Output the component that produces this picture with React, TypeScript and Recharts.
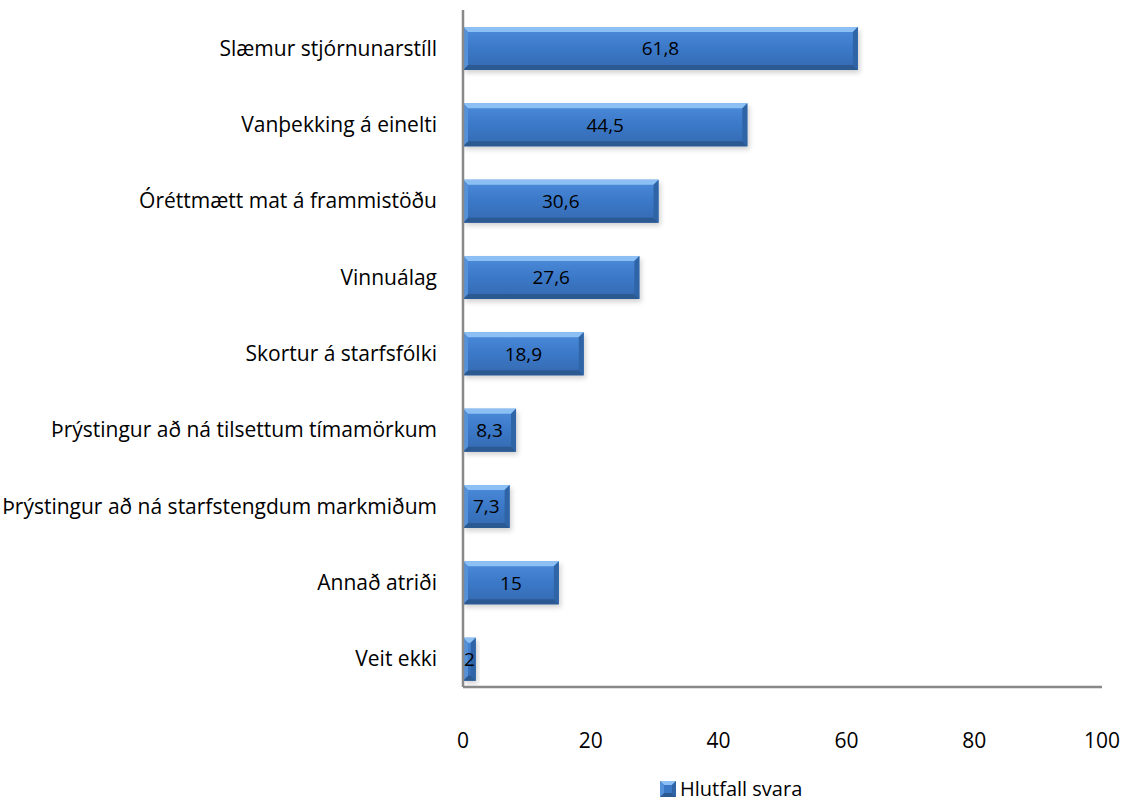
import React from 'react';
import { BarChart, Bar, XAxis, YAxis, LabelList, Legend } from 'recharts';

const categories = [
  'Slæmur stjórnunarstíll',
  'Vanþekking á einelti',
  'Óréttmætt mat á frammistöðu',
  'Vinnuálag',
  'Skortur á starfsfólki',
  'Þrýstingur að ná tilsettum tímamörkum',
  'Þrýstingur að ná starfstengdum markmiðum',
  'Annað atriði',
  'Veit ekki',
];
const values = [61.8, 44.5, 30.6, 27.6, 18.9, 8.3, 7.3, 15, 2];
const xTicks = [0, 20, 40, 60, 80, 100];
const seriesName = 'Hlutfall svara';

const data = categories.map((name, i) => ({ name, value: values[i] }));

const FONT = '"Open Sans", sans-serif';

const BevelBar = (props: any) => {
  const { x, y, width, height } = props;
  if (!width || width <= 0) return null;
  const b = Math.min(5, width / 2);
  return (
    <g>
      <rect x={x + 2} y={y + 3} width={width} height={height} fill="rgba(0,0,0,0.18)" filter="url(#barShadow)" />
      <rect x={x} y={y} width={width} height={height} fill="url(#barFill)" />
      <polygon points={`${x},${y} ${x + width},${y} ${x + width - b},${y + b} ${x + b},${y + b}`} fill="#8cc0f4" />
      <polygon points={`${x},${y + height} ${x + width},${y + height} ${x + width - b},${y + height - b} ${x + b},${y + height - b}`} fill="#2b5a93" />
      <polygon points={`${x},${y} ${x + b},${y + b} ${x + b},${y + height - b} ${x},${y + height}`} fill="#5591d8" />
      <polygon points={`${x + width},${y} ${x + width - b},${y + b} ${x + width - b},${y + height - b} ${x + width},${y + height}`} fill="#2f64a6" />
    </g>
  );
};

const LegendContent = () => (
  <div style={{ display: 'flex', alignItems: 'center', paddingLeft: 660, fontFamily: FONT, fontSize: 20, color: '#000' }}>
    <svg width={16} height={16} style={{ marginRight: 4 }}>
      <rect x={0} y={0} width={16} height={16} fill="#3a78c6" />
      <polygon points="0,0 16,0 12,4 4,4" fill="#8cc0f4" />
      <polygon points="0,16 16,16 12,12 4,12" fill="#2b5a93" />
      <polygon points="0,0 4,4 4,12 0,16" fill="#5591d8" />
      <polygon points="16,0 12,4 12,12 16,16" fill="#2f64a6" />
    </svg>
    <span>{seriesName}</span>
  </div>
);

export default function App() {
  return (
    <div style={{ position: 'absolute', left: 0, top: 0, width: 1125, height: 802, background: '#fff' }}>
      <BarChart
        width={1125}
        height={802}
        data={data}
        layout="vertical"
        margin={{ top: 10, right: 23, left: 0, bottom: 0 }}
      >
        <defs>
          <linearGradient id="barFill" x1="0" y1="0" x2="0" y2="1">
            <stop offset="0%" stopColor="#4d8cda" />
            <stop offset="50%" stopColor="#3b79c8" />
            <stop offset="100%" stopColor="#3569b0" />
          </linearGradient>
          <filter id="barShadow" x="-10%" y="-30%" width="120%" height="160%">
            <feGaussianBlur stdDeviation="2.5" />
          </filter>
        </defs>
        <XAxis
          type="number"
          domain={[0, 100]}
          ticks={xTicks}
          axisLine={{ stroke: '#898989', strokeWidth: 2.5 }}
          tickLine={false}
          tick={{ fill: '#000', fontSize: 21, fontFamily: FONT }}
          tickMargin={40}
          height={88}
          interval={0}
        />
        <YAxis
          type="category"
          dataKey="name"
          width={463}
          padding={{ top: 0, bottom: -10 }}
          axisLine={{ stroke: '#898989', strokeWidth: 2.5 }}
          tickLine={false}
          tick={{ fill: '#000', fontSize: 21, fontFamily: FONT }}
          tickMargin={20}
          interval={0}
        />
        <Legend
          verticalAlign="bottom"
          content={LegendContent}
          wrapperStyle={{ left: 0, width: 1125, bottom: 0 }}
        />
        <Bar dataKey="value" name={seriesName} shape={BevelBar} barSize={43} isAnimationActive={false}>
          <LabelList
            dataKey="value"
            position="center"
            formatter={(v: any) => String(v).replace('.', ',')}
            style={{ fill: '#000', fontSize: 19, fontFamily: FONT }}
          />
        </Bar>
      </BarChart>
    </div>
  );
}
